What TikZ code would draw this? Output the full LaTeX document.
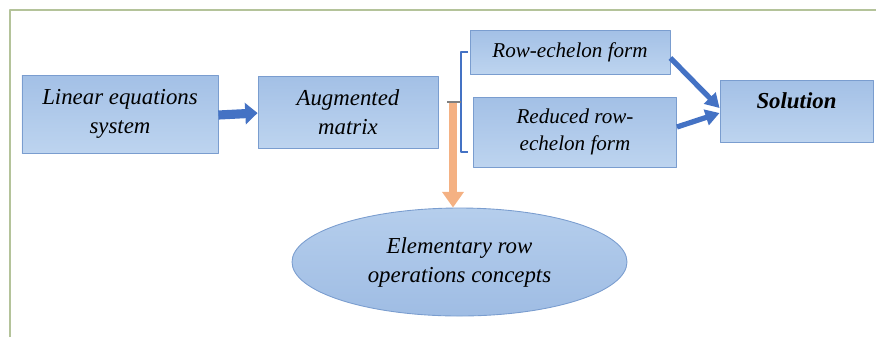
\documentclass[tikz,border=0pt]{standalone}
\usepackage{fontspec}
\setmainfont{Liberation Serif}
\usetikzlibrary{arrows.meta,shapes.geometric}
\definecolor{boxtop}{HTML}{A3C0E6}
\definecolor{boxbot}{HTML}{BDD4EF}
\definecolor{boxline}{HTML}{7A9DCF}
\definecolor{arrblue}{HTML}{4472C4}
\definecolor{arrorange}{HTML}{F4B183}
\definecolor{framegreen}{HTML}{B4C39A}
\tikzset{
	blockbox/.style={draw=boxline,line width=.5pt,top color=boxtop,bottom color=boxbot,
		align=center,font=\fontsize{13}{16.5}\selectfont\itshape,inner sep=2pt},
	flowarrow/.style={arrblue,line width=3pt,-{Triangle[width=9pt,length=8pt]}}
}
\begin{document}
\begin{tikzpicture}[line join=round]
	\useasboundingbox (0,0) rectangle (17.52,-6.74);
	% frame
	\draw[framegreen,line width=.7pt] (0.2,-6.74)--(0.2,-0.2)--(17.52,-0.2);
	% boxes
	\node[blockbox,minimum width=3.92cm,minimum height=1.56cm] (lin) at (2.4,-2.28) {Linear equations\\system};
	\node[blockbox,minimum width=3.6cm,minimum height=1.44cm] (aug) at (6.96,-2.24) {Augmented\\matrix};
	\node[blockbox,minimum width=4cm,minimum height=.88cm,font=\fontsize{12}{14}\selectfont\itshape] (ref) at (11.4,-1.04) {Row-echelon form};
	\node[blockbox,minimum width=4.06cm,minimum height=1.4cm,font=\fontsize{12}{15.5}\selectfont\itshape] (rref) at (11.5,-2.64) {Reduced row-\\echelon form};
	\node[blockbox,minimum width=3.06cm,minimum height=1.24cm,font=\fontsize{13}{15}\selectfont\bfseries\itshape,text depth=.4cm] (sol) at (15.93,-2.22) {Solution};
	\node[blockbox,ellipse,minimum width=6.7cm,minimum height=2.16cm,top color=boxbot!70!boxtop,bottom color=boxtop!90!boxline] (ell) at (9.19,-5.24) {Elementary row\\operations concepts};
	% connectors
	\coordinate (br) at (9.22,-2.04);
	\draw[arrblue,line width=5.2pt,-{Triangle[width=12pt,length=7pt]}] ([yshift=-.02cm]lin.east) -- ([yshift=-.02cm]aug.west);
	\draw[arrblue,line width=1.6pt] (9.36,-1.04) -- (9.22,-1.04) -- (9.22,-3.04) -- (9.36,-3.04)
		(br) -- (8.94,-2.04);
	\draw[arrorange,line width=4pt,-{Triangle[width=12pt,length=9pt]}] (9.06,-2.04) -- (ell.north -| 9.06,0);
	\draw[gray,line width=1.2pt] (8.94,-2.04) -- (br);
	\draw[flowarrow] ([yshift=-.12cm]ref.east) -- ([yshift=.06cm]sol.west);
	\draw[flowarrow] ([yshift=.1cm]rref.east) -- ([yshift=-.04cm]sol.west);
\end{tikzpicture}
\end{document}
